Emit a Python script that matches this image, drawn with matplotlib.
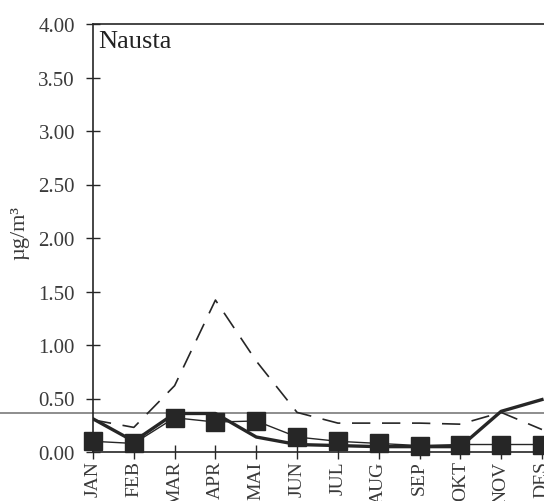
import matplotlib
matplotlib.use("Agg")
import matplotlib.pyplot as plt

months = ["JAN", "FEB", "MAR", "APR", "MAI", "JUN", "JUL", "AUG", "SEP", "OKT", "NOV", "DES"]
thick = [0.31, 0.10, 0.36, 0.36, 0.14, 0.07, 0.06, 0.05, 0.05, 0.05, 0.38, 0.49]
dashed = [0.30, 0.23, 0.62, 1.42, 0.85, 0.37, 0.27, 0.27, 0.27, 0.26, 0.37, 0.21]
squares = [0.10, 0.08, 0.32, 0.28, 0.29, 0.14, 0.10, 0.08, 0.06, 0.07, 0.07, 0.07]
ref_level = 0.36
yticks = [0.0, 0.5, 1.0, 1.5, 2.0, 2.5, 3.0, 3.5, 4.0]

plt.rcParams["font.family"] = ["Liberation Serif", "DejaVu Serif"]

fig = plt.figure(figsize=(5.44, 5.02), dpi=100)
ax = fig.add_axes([93 / 544, 49 / 502, 1 - 93 / 544, 428 / 502])

x = list(range(len(months)))
ink = "#262626"
txt = "#3a3a3a"

# reference level, runs out past the y axis
ax.axhline(ref_level, xmin=-0.21, xmax=1, color="#7a7a7a", lw=1.2, clip_on=False, zorder=1)

ax.plot(x, dashed, color=ink, lw=1.2, dashes=(11, 7), zorder=2)
ax.plot(x, squares, color=ink, lw=1.0, marker="s", markersize=12.5, clip_on=False, zorder=3)
ax.plot(x, thick, color=ink, lw=2.4, zorder=4)

ax.set_xlim(0, 11.05)
ax.set_ylim(0, 4.0)
ax.set_yticks(yticks)
ax.set_yticklabels([f"{v:.2f}" for v in yticks], fontsize=15, color=txt)
ax.set_xticks(x)
ax.set_xticklabels(months, rotation=90, fontsize=14, color=txt)
ax.tick_params(axis="both", direction="inout", length=10, width=1, color=ink)
ax.tick_params(axis="x", pad=1)
ax.tick_params(axis="y", pad=8)

for s in ax.spines.values():
    s.set_color(ink)
    s.set_linewidth(1.2)
ax.spines["right"].set_visible(False)

ax.set_ylabel("µg/m³", fontsize=16, color=txt)
ax.yaxis.set_label_coords(-0.142, 0.514)
ax.text(0.012, 0.985, "Nausta", transform=ax.transAxes, ha="left", va="top",
        fontsize=19, color="#222222")

fig.savefig("out.png", dpi=100)
